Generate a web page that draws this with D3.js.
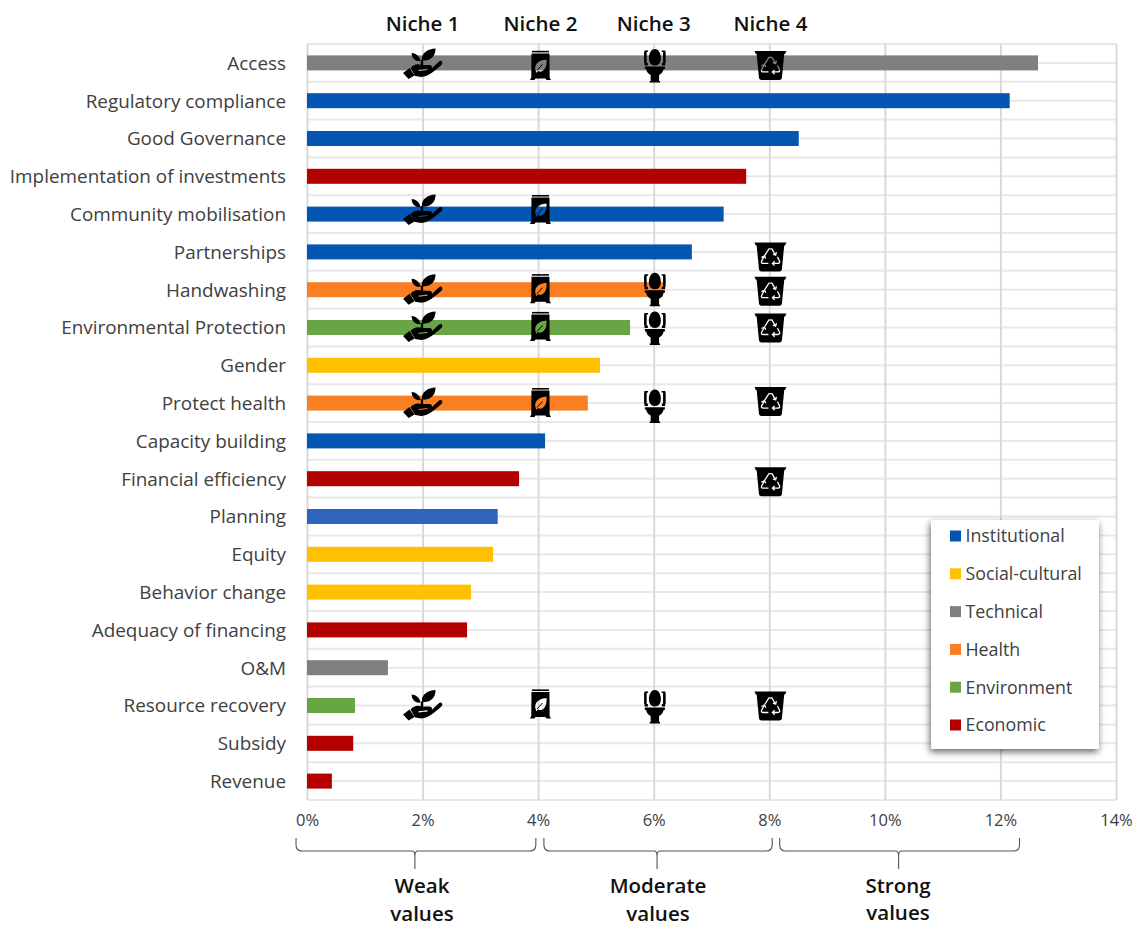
<!DOCTYPE html>
<html>
<head>
<meta charset="utf-8">
<script src="https://cdn.jsdelivr.net/npm/d3@7/dist/d3.min.js"></script>
<style>
  html, body { margin: 0; padding: 0; background: #fff; }
  svg { display: block; font-family: "Open Sans", "Noto Sans", sans-serif; }
</style>
</head>
<body>
<svg id="chart" width="1132" height="926"></svg>
<script>
// Share of mentions per sanitation value, ranked from largest to smallest.
const values = ["Access","Regulatory compliance","Good Governance","Implementation of investments",
  "Community mobilisation","Partnerships","Handwashing","Environmental Protection","Gender",
  "Protect health","Capacity building","Financial efficiency","Planning","Equity","Behavior change",
  "Adequacy of financing","O&M","Resource recovery","Subsidy","Revenue"];
const shares = [12.65,12.16,8.51,7.6,7.21,6.66,6.16,5.59,5.07,4.86,4.12,3.67,3.3,3.22,2.84,2.77,1.4,0.83,0.8,0.43];
const groups = ["Technical","Institutional","Institutional","Economic","Institutional","Institutional",
  "Health","Environment","Social-cultural","Health","Institutional","Economic","Planning",
  "Social-cultural","Social-cultural","Economic","Technical","Environment","Economic","Economic"];

const legendGroups = ["Institutional","Social-cultural","Technical","Health","Environment","Economic"];
const groupColours = ["#0456b3","#ffc000","#7f7f7f","#f97e24","#6aa545","#b30000"];

const xTicks = [0,2,4,6,8,10,12,14];

// Which values each business niche addresses.
const nicheNames = ["Niche 1","Niche 2","Niche 3","Niche 4"];
const nicheTicks = [2,4.04,6,8.02];
const niche1 = ["Access","Community mobilisation","Handwashing","Environmental Protection","Protect health","Resource recovery"];
const niche2 = ["Access","Community mobilisation","Handwashing","Environmental Protection","Protect health","Resource recovery"];
const niche3 = ["Access","Handwashing","Environmental Protection","Protect health","Resource recovery"];
const niche4 = ["Access","Partnerships","Handwashing","Environmental Protection","Protect health","Financial efficiency","Resource recovery"];

// Strength bands below the axis, in percent.
const bandStart = [-0.19,4.1,8.18];
const bandEnd = [3.96,8.05,12.33];
const bandWords = [["Weak","values"],["Moderate","values"],["Strong","values"]];

const svg = d3.select("#chart");
const margin = {left: 307, right: 1116, top: 44, bottom: 800};

const x = d3.scaleLinear().domain([0,14]).range([margin.left, margin.right]);
const y = d3.scaleBand().domain(values).range([margin.top, margin.bottom]).paddingInner(0.603).paddingOuter(0.3015);
const colourOf = d3.scaleOrdinal().domain(legendGroups.concat("Planning")).range(groupColours.concat("#2e64bc"));

/* Icon definitions, each centred on its own origin */
const defs = svg.append("defs");

defs.append("filter").attr("id","legendShadow")
    .attr("x","-15%").attr("y","-15%").attr("width","130%").attr("height","130%")
  .append("feDropShadow")
    .attr("dx",-1).attr("dy",3).attr("stdDeviation",3.5)
    .attr("flood-color","#000").attr("flood-opacity",0.6);

const plant = defs.append("g").attr("id","icon-plant");
plant.append("path").attr("d","M-0.5,-2.5C-1.5,-10 5,-14 13,-14.5C13,-7 8,-2 1,-2.5Z");
plant.append("path").attr("d","M-2,-2C-3,-7 -7,-10 -11,-10C-11,-5 -7,-1 -2,-2Z");
plant.append("path").attr("d","M-1.8,-3H0.6V3H-1.8Z");
plant.append("path").attr("fill-rule","evenodd").attr("d",
  "M-19.5,10L-13,5L-8,12.5L-14,16Z" +
  "M-12,5C-9,1.5 -5,0.5 -1,2L6,2C9.5,2 10,4 9,5.5L16.5,-1.5C19,-3.5 21,0 18.8,2C12,8 6,13.5 -1,14L-7.5,13Z" +
  "M-4,6.8L5,5.8L5,7L-4,8Z");

const bag = defs.append("g").attr("id","icon-bag");
bag.append("path").attr("d","M-8.5,-14.6H8.5V-13H-8.5Z");
bag.append("path").attr("fill-rule","evenodd").attr("d",
  "M-9,-12H9L9.2,12L10.5,14.5H6L5,13H-5L-6,14.5H-10.5L-9.2,12Z" +
  "M-4.5,6C-7,0 -3,-5.5 6,-6C7,2.5 2,8 -2.5,5.5L-4.5,7.5Z");
bag.append("path").attr("d","M-3.5,5L2,-1").attr("stroke","#000").attr("stroke-width",1).attr("fill","none");

const toilet = defs.append("g").attr("id","icon-toilet");
toilet.append("path").attr("d","M0,-17C4,-17 6,-12 6,-8C6,-3.5 4,-0.5 0,-0.5C-4,-0.5 -6,-3.5 -6,-8C-6,-12 -4,-17 0,-17Z");
toilet.append("path").attr("d","M-10.5,-15.5H-6.8V-14H-8.2V-3H-7V-0.5H-10.3V-3H-10.8V-14H-10.5Z");
toilet.append("path").attr("d","M10.5,-15.5H6.8V-14H8.2V-3H7V-0.5H10.3V-3H10.8V-14H10.5Z");
toilet.append("path").attr("d","M-10,0.6H10V3H8.8C8.2,6 6.5,8 4.2,9V15H5.2V16.5H-5.2V15H-4.2V9C-6.5,8 -8.2,6 -8.8,3H-10Z");

// The recycling arrows are knocked out of the bin so the bar shows through.
const binMask = defs.append("mask").attr("id","binMask")
    .attr("maskUnits","userSpaceOnUse").attr("x",-20).attr("y",-20).attr("width",40).attr("height",40);
binMask.append("rect").attr("x",-20).attr("y",-20).attr("width",40).attr("height",40).attr("fill","#fff");
binMask.append("path")
    .attr("d","M-6,-1L-1.5,-8H1.5L5,-2M2.4,-2.8L5.2,-1.8L6,-4.8M7,0L9,4Q9.8,6.5 7,6.5H2M4.2,4.3L2,6.5L4.2,8.7M-2,6.5H-7Q-9.8,6.5 -8.7,4L-6.5,0M-9,0.5L-6,-1L-4.6,1.6")
    .attr("fill","none").attr("stroke","#000").attr("stroke-width",1.3);
defs.append("path").attr("id","icon-bin").attr("mask","url(#binMask)")
    .attr("d","M-16,-14.5H16L14.6,-11.5H13.8L11.5,12C11.4,13.5 10.5,14.5 9,14.5H-9C-10.5,14.5 -11.4,13.5 -11.5,12L-13.8,-11.5H-14.6Z");

/* Plot frame and gridlines */
const step = y.step();
svg.append("g").attr("class","grid-y").selectAll("line")
  .data(d3.range(0, values.length * 2 + 1))
  .join("line")
    .attr("x1", x(0)).attr("x2", x(14))
    .attr("y1", d => margin.top + d * step / 2)
    .attr("y2", d => margin.top + d * step / 2)
    .attr("stroke","#e8e8e8").attr("stroke-width",2);

const gridX = svg.append("g").attr("transform",`translate(0,${margin.bottom})`)
  .call(d3.axisBottom(x).tickValues(xTicks).tickSize(-(margin.bottom - margin.top)).tickFormat(""));
gridX.select(".domain").remove();
gridX.selectAll("line").attr("stroke","#d9d9d9").attr("stroke-width",2);

/* Bars */
svg.append("g").selectAll("rect")
  .data(values)
  .join("rect")
    .attr("x", x(0))
    .attr("y", d => y(d))
    .attr("width", (d,i) => x(shares[i]) - x(0))
    .attr("height", y.bandwidth())
    .attr("fill", (d,i) => colourOf(groups[i]));

/* Axes */
const yAxis = svg.append("g").attr("transform",`translate(${margin.left},0)`)
  .call(d3.axisLeft(y).tickSize(0).tickPadding(21))
  .attr("font-family", null).attr("font-size", null);
yAxis.select(".domain").remove();
yAxis.selectAll("text").attr("font-size",18.9).attr("fill","#404040").attr("dy","0.36em");

const xAxis = svg.append("g").attr("transform",`translate(0,${margin.bottom})`)
  .call(d3.axisBottom(x).tickValues(xTicks).tickSize(0).tickPadding(14).tickFormat(d => d + "%"))
  .attr("font-family", null).attr("font-size", null);
xAxis.select(".domain").remove();
xAxis.selectAll("text").attr("font-size",16.5).attr("fill","#404040");

/* Niche headers and icons */
svg.append("g").selectAll("text")
  .data(nicheNames)
  .join("text")
    .attr("x", (d,i) => x(nicheTicks[i]))
    .attr("y", 31)
    .attr("text-anchor","middle")
    .attr("font-size",20.5).attr("font-weight",600).attr("fill","#111")
    .text(d => d);

// Vertical fine-tuning of each icon relative to its bar.
const iconNudge = {
  "Access":[0,2.5,3,2.5], "Community mobilisation":[-5,-4.5,0,0], "Partnerships":[0,0,0,5],
  "Handwashing":[-1,-1,0,1.5], "Environmental Protection":[-1.5,-1,1,0.5],
  "Protect health":[-1,-0.5,3.5,-1.5], "Financial efficiency":[0,0,0,3], "Resource recovery":[-1,-1.5,1.5,0.5]
};
const iconColumns = [
  {ids:"#icon-plant",  rows:niche1, tick:2},
  {ids:"#icon-bag",    rows:niche2, tick:4.04},
  {ids:"#icon-toilet", rows:niche3, tick:6.02},
  {ids:"#icon-bin",    rows:niche4, tick:8.02}
];
iconColumns.forEach((col,c) => {
  svg.append("g").selectAll("use")
    .data(col.rows)
    .join("use")
      .attr("href", col.ids)
      .attr("transform", d => `translate(${x(col.tick)},${y(d) + y.bandwidth()/2 + iconNudge[d][c]})`)
      .attr("fill","#000");
});

/* Curly braces marking the value bands */
const braceTop = 838, braceBar = 851, braceTip = 869;
function bracePath(a, b) {
  const m = (a + b) / 2 - 1;
  const p = d3.path();
  p.moveTo(a, braceTop);
  p.lineTo(a, braceBar - 6);
  p.quadraticCurveTo(a, braceBar, a + 6, braceBar);
  p.lineTo(m - 3, braceBar);
  p.quadraticCurveTo(m, braceBar, m, braceBar + 5);
  p.lineTo(m, braceTip);
  p.moveTo(m, braceBar + 5);
  p.quadraticCurveTo(m, braceBar, m + 3, braceBar);
  p.lineTo(b - 6, braceBar);
  p.quadraticCurveTo(b, braceBar, b, braceBar - 6);
  p.lineTo(b, braceTop);
  return p.toString();
}
svg.append("g").selectAll("path")
  .data(bandWords)
  .join("path")
    .attr("d", (d,i) => bracePath(x(bandStart[i]), x(bandEnd[i])))
    .attr("fill","none").attr("stroke","#555").attr("stroke-width",1.1);

const bandLabels = svg.append("g").selectAll("text")
  .data(bandWords)
  .join("text")
    .attr("text-anchor","middle")
    .attr("font-size",20.5).attr("font-weight",600).attr("fill","#111");
bandLabels.each(function(words,i) {
  const cx = [422,658,898][i], top = [893,893,893][i], lead = [28,28,27][i];
  d3.select(this).selectAll("tspan").data(words).join("tspan")
    .attr("x",cx).attr("y",(w,j) => top + j * lead).text(w => w);
});

/* Legend */
const legend = svg.append("g");
legend.append("rect")
    .attr("x",931).attr("y",520).attr("width",168).attr("height",229)
    .attr("fill","#fff").attr("filter","url(#legendShadow)");
const legendRow = d3.scalePoint().domain(legendGroups).range([536,725]);
const legendItems = legend.selectAll("g.item").data(legendGroups).join("g").attr("class","item")
    .attr("transform", d => `translate(950,${legendRow(d)})`);
legendItems.append("rect").attr("x",0).attr("y",-5.5).attr("width",11).attr("height",11)
    .attr("fill", d => colourOf(d));
legendItems.append("text").attr("x",15.5).attr("dy","0.36em")
    .attr("font-size",17.8).attr("fill","#404040").text(d => d);
</script>
</body>
</html>
